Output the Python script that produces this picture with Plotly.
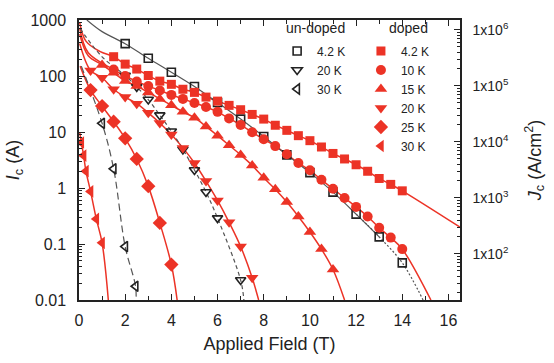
import math
import plotly.graph_objects as go

# ---------------- data ----------------
K_JC = 1493.0  # Jc / Ic conversion factor (right axis)

# un-doped samples (open symbols)
u42_B = [2, 3, 4, 5, 6, 7, 8, 9, 10, 11, 12, 13, 14]
u42_I = [378, 207, 117, 65, 33.6, 17, 8.3, 3.9, 1.88, 0.845, 0.342, 0.134, 0.046]
u20_B = [2, 2.5, 3, 3.5, 4, 4.5, 5, 5.5, 6, 7]
u20_I = [102, 64, 38, 20, 10.3, 4.9, 2.1, 0.85, 0.29, 0.0227]
u30_B = [1, 1.5, 2, 2.45]
u30_I = [14.3, 2.2, 0.09, 0.0176]

# doped samples (filled red symbols)
d42_B = [1.5, 2, 2.5, 3, 3.5, 4, 4.5, 5, 5.5, 6, 6.5, 7, 7.5, 8, 8.5, 9, 9.5, 10,
         10.5, 11, 11.5, 12, 12.5, 13, 13.5, 14]
d42_I = [221, 163, 133, 102, 81, 71, 58, 51, 42, 35.6, 29.9, 25, 20.6, 17, 13.2, 10.7,
         8.6, 7.0, 5.4, 4.14, 3.3, 2.6, 1.99, 1.48, 1.16, 0.89]
d10_B = [1.5, 2, 2.5, 3, 3.5, 4, 4.5, 5, 5.5, 6, 6.5, 7, 7.5, 8, 8.5, 9, 9.5, 10,
         10.5, 11, 11.5, 12, 12.5, 13, 13.5, 14]
d10_I = [130, 100, 80, 66, 55, 46, 39, 33, 28, 22.9, 17.5, 13.4, 9.9, 7.4, 5.6, 4.0,
         2.8, 2.07, 1.4, 0.97, 0.665, 0.46, 0.31, 0.195, 0.13, 0.081]
d15_B = [1, 1.5, 2, 2.5, 3, 3.5, 4, 4.5, 5, 5.5, 6, 6.5, 7, 7.5, 8, 8.5, 9, 9.5, 10,
         10.5, 11]
d15_I = [158, 114, 81, 66, 51, 39, 30, 23, 18, 12.6, 8.6, 5.8, 3.9, 2.53, 1.52, 0.95,
         0.56, 0.31, 0.164, 0.081, 0.035]
d20_B = [0.5, 1, 1.5, 2, 2.5, 3, 3.5, 4, 4.5, 5, 5.5, 6, 6.5, 7, 7.5]
d20_I = [125, 93, 58, 42, 32, 22, 14.5, 9, 5.2, 2.8, 1.33, 0.6, 0.244, 0.09, 0.025]
d25_B = [0.5, 1, 1.5, 2, 2.5, 3, 3.5, 4]
d25_I = [56, 29, 15.3, 7.7, 3.3, 1.08, 0.238, 0.043]
d30_B = [0.1, 0.2, 0.3, 0.5, 0.75, 1.0]
d30_I = [6.5, 3.8, 2.0, 0.87, 0.28, 0.105]

# fitted curves: start and end points (middle = data)
fit_heads = {
    "u42": ([0.34, 1.0], [1000, 620]),
    "u20": ([0.05, 1.0], [700, 220]),
    "u30": ([0.1], [150]),
    "d42": ([0.03, 0.3, 0.9], [900, 420, 275]),
    "d10": ([0.03, 0.4], [720, 260]),
    "d15": ([0.03, 0.4], [560, 230]),
    "d20": ([0.03], [380]),
    "d25": ([0.05], [150]),
    "d30": ([0.03], [10]),
}
fit_tails = {
    "u42": ([14.9], [0.01]),
    "u20": ([7.14], [0.01]),
    "u30": ([2.47], [0.01]),
    "d42": ([16.5], [0.2]),
    "d10": ([15.24], [0.01]),
    "d15": ([11.5], [0.01]),
    "d20": ([7.78], [0.01]),
    "d25": ([4.25], [0.01]),
    "d30": ([1.27], [0.01]),
}

threshold_I = 0.1
x_ticks = [0, 2, 4, 6, 8, 10, 12, 14, 16]
y_ticks = [0.01, 0.1, 1, 10, 100, 1000]
y_ticktext = ["0.01", "0.1", "1", "10", "100", "1000"]
jc_ticks = [1e2, 1e3, 1e4, 1e5, 1e6]
jc_ticktext = ["1x10<sup>2</sup>", "1x10<sup>3</sup>", "1x10<sup>4</sup>",
               "1x10<sup>5</sup>", "1x10<sup>6</sup>"]

RED = "#EC3326"
DARK = "#222222"
LINEGRAY = "#555555"
FONT = "Liberation Sans"

fig = go.Figure()


def fit_xy(key, B, I):
    hx, hy = fit_heads[key]
    tx, ty = fit_tails[key]
    return hx + B + tx, hy + I + ty


# ---- fitted lines ----
red_series = [("d42", d42_B, d42_I), ("d10", d10_B, d10_I), ("d15", d15_B, d15_I),
              ("d20", d20_B, d20_I), ("d25", d25_B, d25_I), ("d30", d30_B, d30_I)]
for key, B, I in red_series:
    fx, fy = fit_xy(key, B, I)
    fig.add_trace(go.Scatter(x=fx, y=fy, mode="lines", showlegend=False,
                             line=dict(color=RED, width=1.5, shape="spline", smoothing=1),
                             hoverinfo="skip"))

# un-doped 4.2 K: solid through data, dotted extrapolation
fx, fy = fit_xy("u42", u42_B, u42_I)
n_solid = len(fit_heads["u42"][0]) + len(u42_B) - 1
fig.add_trace(go.Scatter(x=fx[:n_solid], y=fy[:n_solid], mode="lines", showlegend=False,
                         line=dict(color=LINEGRAY, width=1.2, shape="spline", smoothing=1),
                         hoverinfo="skip"))
fig.add_trace(go.Scatter(x=fx[n_solid - 2:], y=fy[n_solid - 2:], mode="lines", showlegend=False,
                         line=dict(color=LINEGRAY, width=1.2, shape="spline", smoothing=1,
                                   dash="2px,2px"),
                         hoverinfo="skip"))
fx, fy = fit_xy("u20", u20_B, u20_I)
fig.add_trace(go.Scatter(x=fx, y=fy, mode="lines", showlegend=False,
                         line=dict(color=LINEGRAY, width=1.2, shape="spline", smoothing=1,
                                   dash="4px,3px"),
                         hoverinfo="skip"))
fx, fy = fit_xy("u30", u30_B, u30_I)
fig.add_trace(go.Scatter(x=fx, y=fy, mode="lines", showlegend=False,
                         line=dict(color=LINEGRAY, width=1.2, shape="spline", smoothing=1,
                                   dash="7px,4px"),
                         hoverinfo="skip"))

# ---- markers ----
open_series = [("4.2 K", u42_B, u42_I, "square-open", 8),
               ("20 K", u20_B, u20_I, "triangle-down-open", 9),
               ("30 K", u30_B, u30_I, "triangle-left-open", 9)]
for name, B, I, sym, sz in open_series:
    fig.add_trace(go.Scatter(x=B, y=I, mode="markers", name=name, legend="legend",
                             marker=dict(symbol=sym, size=sz, color=DARK,
                                         line=dict(width=1.6, color=DARK))))

filled_series = [("4.2 K", d42_B, d42_I, "square", 9),
                 ("10 K", d10_B, d10_I, "circle", 10),
                 ("15 K", d15_B, d15_I, "triangle-up", 11),
                 ("20 K", d20_B, d20_I, "triangle-down", 11),
                 ("25 K", d25_B, d25_I, "diamond", 11),
                 ("30 K", d30_B, d30_I, "triangle-left", 11)]
for name, B, I, sym, sz in filled_series:
    fig.add_trace(go.Scatter(x=B, y=I, mode="markers", name=name, legend="legend2",
                             marker=dict(symbol=sym, size=sz, color=RED, line=dict(width=0))))

# dummy trace to activate right axis
fig.add_trace(go.Scatter(x=[None], y=[None], yaxis="y2", showlegend=False))

# horizontal reference line
fig.add_shape(type="line", xref="paper", x0=0, x1=1, yref="y",
              y0=math.log10(threshold_I), y1=math.log10(threshold_I),
              line=dict(color="#999999", width=1))

# legend group titles
fig.add_annotation(text="un-doped", xref="paper", yref="paper", x=0.622, y=0.937,
                   xanchor="center", yanchor="bottom", showarrow=False,
                   font=dict(size=14, family=FONT, color=DARK))
fig.add_annotation(text="doped", xref="paper", yref="paper", x=0.922, y=0.937,
                   xanchor="right", yanchor="bottom", showarrow=False,
                   font=dict(size=14, family=FONT, color=DARK))

minor_mult = [2, 3, 4, 5, 6, 7, 8, 9]
left_minor = [m * 10 ** e for e in range(-2, 3) for m in minor_mult]
right_minor = [m * 10 ** e for e in range(1, 7) for m in minor_mult]

fig.update_layout(
    width=554, height=363,
    margin=dict(l=75, r=91, t=14, b=61),
    paper_bgcolor="white", plot_bgcolor="white",
    font=dict(family=FONT, color=DARK),
    xaxis=dict(range=[0, 16.5], tickmode="array", tickvals=x_ticks,
               ticks="inside", ticklen=6, tickwidth=1.3, tickcolor=DARK,
               minor=dict(dtick=1, ticks="inside", ticklen=4, tickcolor=DARK, showgrid=False),
               showline=True, linecolor=DARK, linewidth=1.5, mirror="ticks",
               showgrid=False, zeroline=False,
               tickfont=dict(size=16), ticklabelstandoff=5,
               title=dict(text="Applied Field (T)", font=dict(size=18), standoff=9)),
    yaxis=dict(type="log", range=[-2, 3], tickmode="array", tickvals=y_ticks,
               ticktext=y_ticktext,
               ticks="inside", ticklen=6, tickwidth=1.3, tickcolor=DARK,
               minor=dict(tickmode="array", tickvals=left_minor, ticks="inside",
                          ticklen=3, tickcolor=DARK, showgrid=False),
               showline=True, linecolor=DARK, linewidth=1.5,
               showgrid=False, zeroline=False,
               tickfont=dict(size=16), ticklabelstandoff=8,
               title=dict(text="<i>I</i><sub>c</sub> (A)", font=dict(size=18), standoff=6)),
    yaxis2=dict(type="log", overlaying="y", side="right",
                range=[math.log10(0.01 * K_JC), math.log10(1000 * K_JC)],
                tickmode="array", tickvals=jc_ticks, ticktext=jc_ticktext,
                ticks="inside", ticklen=6, tickwidth=1.3, tickcolor=DARK,
                minor=dict(tickmode="array", tickvals=right_minor, ticks="inside",
                           ticklen=3, tickcolor=DARK, showgrid=False),
                showline=True, linecolor=DARK, linewidth=1.5,
                showgrid=False, zeroline=False,
                tickfont=dict(size=14), ticklabelstandoff=8,
                title=dict(text="<i>J</i><sub>c</sub> (A/cm<sup>2</sup>)", font=dict(size=18),
                           standoff=20)),
    legend=dict(x=0.52, y=0.941, xanchor="left", yanchor="top",
                bgcolor="rgba(0,0,0,0)", font=dict(size=12), itemwidth=30,
                tracegroupgap=0),
    legend2=dict(x=0.74, y=0.941, xanchor="left", yanchor="top",
                 bgcolor="rgba(0,0,0,0)", font=dict(size=12), itemwidth=30,
                 tracegroupgap=0),
)

fig.write_html("out.html")
